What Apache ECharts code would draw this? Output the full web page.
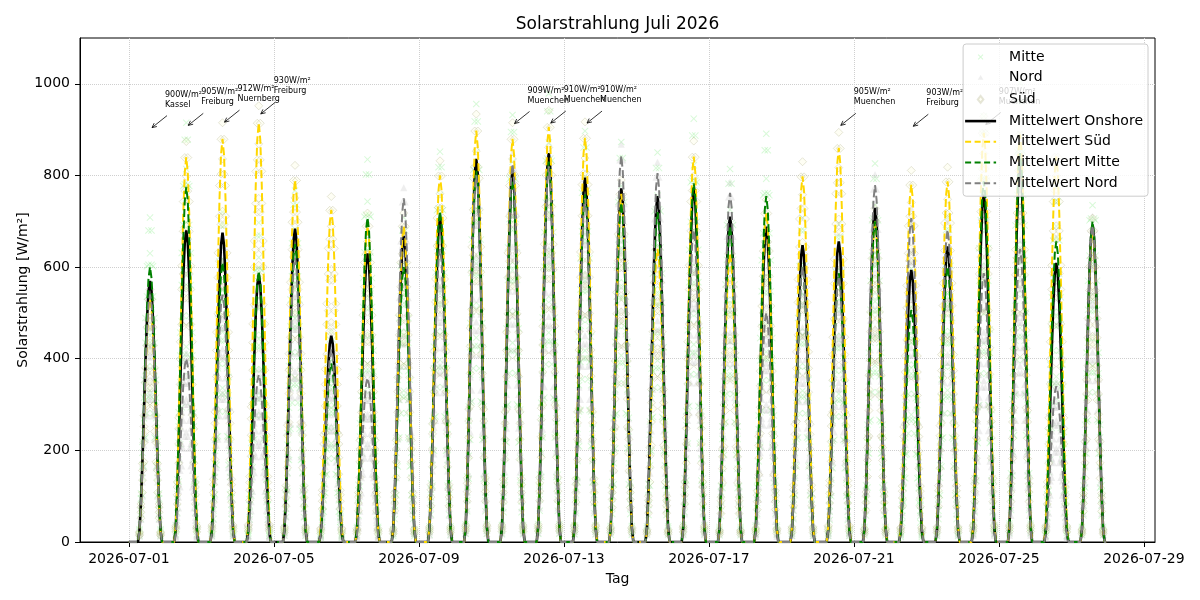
<!DOCTYPE html>
<html>
<head>
<meta charset="utf-8">
<title>Solarstrahlung Juli 2026</title>
<script src="https://cdn.jsdelivr.net/npm/echarts@6/dist/echarts.min.js"></script>
<style>
  html, body { margin: 0; padding: 0; background: #fff; }
  #chart { width: 1200px; height: 600px; }
</style>
</head>
<body>
<div id="chart"></div>
<script>
// Stundenwerte ab 01.07. 00:00, 27 Tage
const startDate = '2026-07-01'
const dayCount = 27

// Tagesspitzen der Mittelwerte (W/m²), Tag 1..27
const peakOnshore = [570, 680, 675, 583, 684, 450, 630, 668, 710, 836, 811, 849, 795, 772, 755, 774, 710, 688, 648, 656, 729, 594, 645, 758, 827, 609, 692]
const peakSued    = [530, 840, 880, 915, 790, 725, 690, 690, 800, 898, 880, 906, 882, 760, 640, 841, 630, 718, 798, 860, 700, 780, 787, 893, 889, 841, 680]
const peakMitte   = [600, 775, 610, 591, 650, 390, 708, 600, 722, 810, 790, 830, 760, 740, 720, 783, 690, 755, 600, 587, 700, 506, 601, 787, 849, 656, 700]
const peakNord    = [540, 400, 540, 365, 620, 420, 358, 750, 640, 800, 825, 820, 750, 843, 805, 680, 762, 500, 600, 580, 779, 707, 681, 587, 640, 340, 690]

// Tagesgang (Anteil der Tagesspitze je Stunde 0..23)
const dayProfile = [0, 0, 0, 0, 0, 0, 0, 0.04, 0.15, 0.31, 0.5, 0.69, 0.85, 0.96, 1, 0.96, 0.85, 0.69, 0.5, 0.31, 0.15, 0.04, 0, 0]

// Streuung der Einzelstationen relativ zum Regionsmittel
const mitteStations = [0.55, 0.75, 0.9, 1.05, 1.18]
const nordStations  = [0.6, 0.78, 0.9, 1.03]
const suedStations  = [0.66, 0.82, 0.95, 1.04]

// Tagesmaxima mit Station
const annDays   = ['2026-07-01', '2026-07-02', '2026-07-03', '2026-07-04', '2026-07-11', '2026-07-12', '2026-07-13', '2026-07-20', '2026-07-22', '2026-07-24']
const annValues = [900, 905, 912, 930, 909, 910, 910, 905, 903, 907]
const annCities = ['Kassel', 'Freiburg', 'Nuernberg', 'Freiburg', 'Muenchen', 'Muenchen', 'Muenchen', 'Muenchen', 'Freiburg', 'Muenchen']
const annHour = 14

const xTickLabels = ['2026-07-01', '2026-07-05', '2026-07-09', '2026-07-13', '2026-07-17', '2026-07-21', '2026-07-25', '2026-07-29']
const yTicks = [0, 200, 400, 600, 800, 1000]

const HOUR = 3600 * 1000
const t0 = Date.parse(startDate)
const tLast = t0 + (dayCount * 24 - 1) * HOUR
const xPad = (tLast - t0) * 0.05
const xTicks = xTickLabels.map(s => Date.parse(s))
const FONT = 'DejaVu Sans'

function hourly (peaks) {
  const out = []
  peaks.forEach((p, d) => {
    dayProfile.forEach((f, h) => {
      out.push([t0 + (d * 24 + h) * HOUR, Math.round(p * f)])
    })
  })
  return out
}

function stations (peaks, factors) {
  const out = []
  peaks.forEach((p, d) => {
    dayProfile.forEach((f, h) => {
      if (f === 0) return
      factors.forEach(k => out.push([t0 + (d * 24 + h) * HOUR, Math.round(p * f * k)]))
    })
  })
  return out
}

const xPath = 'path://M0,1L1,0L5,4L9,0L10,1L6,5L10,9L9,10L5,6L1,10L0,9L4,5Z'
const dash = [8, 3.5]
// Legenden-Symbole: durchgezogene und gestrichelte Linie
const solidIcon = 'path://M0,0L31,0L31,2.6L0,2.6Z'
const dashIcon = 'path://M0,0L6,0L6,2L0,2ZM9.5,0L15.5,0L15.5,2L9.5,2ZM19,0L25,0L25,2L19,2ZM28.5,0L31,0L31,2L28.5,2Z'

const chart = echarts.init(document.getElementById('chart'))

const titleText = 'Solarstrahlung Juli 2026'
const ctx = document.createElement('canvas').getContext('2d')
ctx.font = '17px "' + FONT + '"'
const titleW = ctx.measureText(titleText).width

const option = {
  animation: false,
  textStyle: { fontFamily: FONT },
  title: {
    text: titleText,
    left: 617.5 - titleW / 2,
    top: 16,
    padding: 0,
    textStyle: { fontSize: 17, fontWeight: 'normal', color: '#000', fontFamily: FONT }
  },
  grid: {
    left: 80, right: 45, top: 38, bottom: 58,
    outerBoundsMode: 'none',
    containLabel: false,
    show: true, borderColor: '#000', borderWidth: 1
  },
  legend: {
    orient: 'vertical',
    right: 52,
    top: 44,
    itemWidth: 31,
    itemHeight: 14,
    itemGap: 6.7,
    padding: [6, 5, 6, 2],
    backgroundColor: 'rgba(255,255,255,0.8)',
    borderColor: '#cccccc',
    borderWidth: 1,
    borderRadius: 3,
    textStyle: { fontSize: 14, color: '#000', fontFamily: FONT, padding: [0, 0, 0, 8] },
    data: [
      { name: 'Mitte', icon: 'path://M0,0M20,20M6,7L7,6L10,9L13,6L14,7L11,10L14,13L13,14L10,11L7,14L6,13L9,10Z' },
      { name: 'Nord', icon: 'path://M0,0M20,20M6,13L10,6L14,13Z' },
      { name: 'Süd', icon: 'path://M0,0M20,20M10,5L14,10L10,15L6,10Z' },
      { name: 'Mittelwert Onshore', icon: solidIcon },
      { name: 'Mittelwert Süd', icon: dashIcon },
      { name: 'Mittelwert Mitte', icon: dashIcon },
      { name: 'Mittelwert Nord', icon: dashIcon }
    ]
  },
  xAxis: {
    type: 'value',
    min: t0 - xPad,
    max: tLast + xPad,
    name: 'Tag',
    nameLocation: 'middle',
    nameGap: 30,
    nameTextStyle: { fontSize: 14, color: '#000' },
    axisLine: { onZero: false, lineStyle: { color: '#000' } },
    axisTick: { length: 5, customValues: xTicks, lineStyle: { color: '#000' } },
    axisLabel: {
      customValues: xTicks,
      margin: 10,
      fontSize: 14,
      color: '#000',
      formatter: v => xTickLabels[xTicks.indexOf(v)]
    },
    splitLine: { show: true, lineStyle: { type: 'dotted', color: '#cfcfcf' } }
  },
  yAxis: {
    type: 'value',
    min: 0,
    max: 1100,
    name: 'Solarstrahlung [W/m²]',
    nameLocation: 'middle',
    nameGap: 50,
    nameMoveOverlap: false,
    nameTextStyle: { fontSize: 14, color: '#000' },
    axisLine: { show: true, lineStyle: { color: '#000' } },
    axisTick: { show: true, length: 5, customValues: yTicks, lineStyle: { color: '#000' } },
    axisLabel: { customValues: yTicks, margin: 10, fontSize: 14, color: '#000', formatter: v => String(v) },
    splitLine: { show: true, lineStyle: { type: 'dotted', color: '#cfcfcf' } }
  },
  series: [
    {
      name: 'Mitte', type: 'scatter', symbol: xPath, symbolSize: 7, z: 1,
      itemStyle: { color: '#90ee90', opacity: 0.35 },
      data: stations(peakMitte, mitteStations)
    },
    {
      name: 'Nord', type: 'scatter', symbol: 'triangle', symbolSize: 7, z: 1,
      itemStyle: { color: '#c8c8c8', opacity: 0.3 },
      data: stations(peakNord, nordStations)
    },
    {
      name: 'Süd', type: 'scatter', symbol: 'diamond', symbolSize: 8, z: 1,
      itemStyle: { color: '#fafad2', borderColor: '#9a9a6a', borderWidth: 1, opacity: 0.25 },
      data: stations(peakSued, suedStations)
    },
    {
      name: 'Mittelwert Onshore', type: 'line', symbol: 'none', showSymbol: false, z: 2,
      lineStyle: { color: '#000', width: 2.6 }, itemStyle: { color: '#000' },
      data: hourly(peakOnshore)
    },
    {
      name: 'Mittelwert Süd', type: 'line', symbol: 'none', showSymbol: false, z: 3,
      lineStyle: { color: '#FFD700', width: 2, type: dash }, itemStyle: { color: '#FFD700' },
      data: hourly(peakSued)
    },
    {
      name: 'Mittelwert Mitte', type: 'line', symbol: 'none', showSymbol: false, z: 3,
      lineStyle: { color: '#008000', width: 2, type: dash }, itemStyle: { color: '#008000' },
      data: hourly(peakMitte)
    },
    {
      name: 'Mittelwert Nord', type: 'line', symbol: 'none', showSymbol: false, z: 3,
      lineStyle: { color: '#808080', width: 2, type: dash }, itemStyle: { color: '#808080' },
      data: hourly(peakNord)
    }
  ]
}

chart.setOption(option)

// Beschriftung der Tagesmaxima mit Pfeil
const elements = []
annDays.forEach((day, i) => {
  const [px, py] = chart.convertToPixel({ gridIndex: 0 }, [Date.parse(day) + annHour * HOUR, annValues[i]])
  const tail = [px + 17, py - 14]
  const tip = [px + 2, py - 2]
  const dx = tip[0] - tail[0]
  const dy = tip[1] - tail[1]
  const len = Math.sqrt(dx * dx + dy * dy)
  const ux = dx / len
  const uy = dy / len
  const head = a => [tip[0] - 5 * (ux * Math.cos(a) - uy * Math.sin(a)), tip[1] - 5 * (ux * Math.sin(a) + uy * Math.cos(a))]
  elements.push({
    type: 'line', z: 3, silent: true,
    shape: { x1: tail[0], y1: tail[1], x2: tip[0], y2: tip[1] },
    style: { stroke: '#000', lineWidth: 0.8 }
  })
  elements.push({
    type: 'polyline', z: 3, silent: true,
    shape: { points: [head(0.45), tip, head(-0.45)] },
    style: { stroke: '#000', lineWidth: 0.8, fill: null }
  })
  elements.push({
    type: 'text', z: 3, silent: true,
    x: px + 15, y: py - 40,
    style: {
      text: annValues[i] + 'W/m²\n' + annCities[i],
      fill: '#000', font: '8px "' + FONT + '"', lineHeight: 10,
      verticalAlign: 'top', align: 'left'
    }
  })
})
chart.setOption({ graphic: { elements } })
</script>
</body>
</html>
